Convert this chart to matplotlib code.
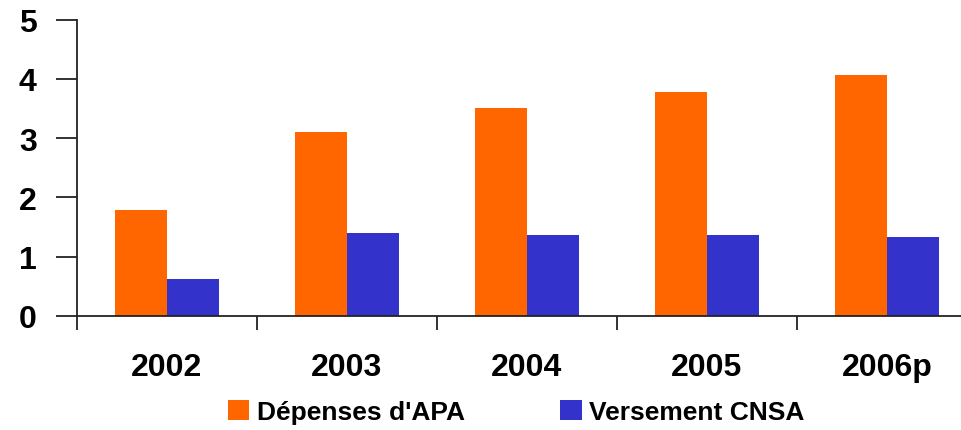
import matplotlib.pyplot as plt
import numpy as np

plt.rcParams['font.family'] = ['Liberation Sans', 'DejaVu Sans']
plt.rcParams['font.weight'] = 'bold'

years = ['2002', '2003', '2004', '2005', '2006p']
depenses_apa = [1.78, 3.11, 3.51, 3.78, 4.07]
versement_cnsa = [0.63, 1.40, 1.36, 1.36, 1.34]

fig = plt.figure(figsize=(9.62, 4.31), dpi=100)
ax = fig.add_axes([77 / 962, 114 / 431, 900 / 962, 296.5 / 431])

x = np.arange(len(years))
w = 0.29
ax.bar(x - w / 2, depenses_apa, w, color='#FF6600', label="Dépenses d'APA")
ax.bar(x + w / 2, versement_cnsa, w, color='#3333CC', label='Versement CNSA')

ax.set_xlim(-0.5, len(years) - 0.5)
ax.set_ylim(0, 5)

for s in ['top', 'right']:
    ax.spines[s].set_visible(False)
for s in ['left', 'bottom']:
    ax.spines[s].set_linewidth(1.3)
    ax.spines[s].set_color('#222222')

ax.set_yticks(range(6))
ax.tick_params(axis='y', length=15, width=1.3, pad=14, labelsize=23, color='#222222')

ax.set_xticks(x)
ax.set_xticklabels(years)
ax.set_xticks(np.arange(len(years)) - 0.5, minor=True)
ax.tick_params(axis='x', which='major', length=0, pad=26, labelsize=23)
ax.tick_params(axis='x', which='minor', length=10, width=1.3, color='#222222')

fig.legend(loc='center', bbox_to_anchor=(0.537, 0.042), ncol=2, frameon=False,
           fontsize=19, handlelength=0.8, handleheight=0.8, handletextpad=0.3,
           columnspacing=3.6)

fig.savefig('out.png', dpi=100)
